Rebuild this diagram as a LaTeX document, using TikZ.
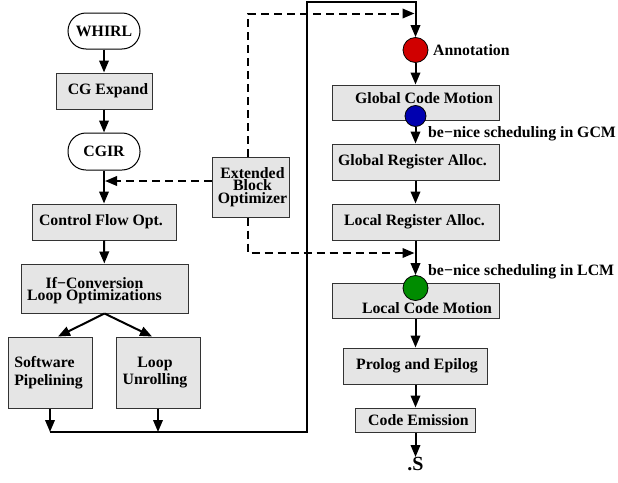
\documentclass[tikz,border=0pt]{standalone}
\usepackage{fontspec}
\setmainfont{Liberation Serif}
\usetikzlibrary{arrows.meta,calc}
\definecolor{boxfill}{RGB}{229,229,229}
\definecolor{redc}{RGB}{208,0,0}
\definecolor{bluec}{RGB}{0,0,176}
\definecolor{greenc}{RGB}{0,140,0}
\begin{document}
\begin{tikzpicture}[x=1pt,y=-1pt,
  font=\fontsize{15.8}{12.5}\selectfont\bfseries,
  box/.style={draw=black!80,line width=1pt,fill=boxfill,inner sep=0pt,rectangle},
  term/.style={draw=black,line width=1pt,fill=white,rounded corners=18pt,minimum width=72pt,minimum height=36pt,inner sep=0pt},
  dot/.style={circle,draw=black,line width=0.8pt,inner sep=0pt},
  arr/.style={line width=2pt,-{Triangle[length=12pt,width=9.5pt]}},
  darr/.style={line width=2pt,dash pattern=on 8pt off 5pt,-{Triangle[length=12pt,width=9.5pt]}},
  note/.style={anchor=west,inner sep=0pt}]
\useasboundingbox (0,0) rectangle (618,482);
\lineskiplimit=-30pt
% left column
\node[term] (whirl) at (104,31) {WHIRL};
\node[box,minimum width=96pt,minimum height=36pt,label={[shift={(4,0)}]center:CG Expand}] (cge) at (104,91) {};
\node[term,minimum height=37pt] (cgir) at (104,151.5) {CGIR};
\node[box,minimum width=144pt,minimum height=36pt,label={[shift={(-3,0)}]center:Control Flow Opt.}] (cfo) at (104,222) {};
\node[box,minimum width=167pt,minimum height=49pt,label={[shift={(-10,2)},align=center]center:{If−Conversion\\Loop Optimizations}}] (ifc) at (104.5,288.5) {};
\node[box,minimum width=84pt,minimum height=71pt,label={[shift={(-1.5,0)},align=left,font=\fontsize{15.8}{17.5}\selectfont\bfseries]center:{Software\\Pipelining}}] (sp) at (50,372.5) {};
\node[box,minimum width=84pt,minimum height=71pt,label={[shift={(-3,0)},align=center,font=\fontsize{15.8}{17.5}\selectfont\bfseries]center:{Loop\\Unrolling}}] (lu) at (158,372.5) {};
\node[box,minimum width=77pt,minimum height=60pt,label={[shift={(2,0)},align=center]center:{Extended\\Block\\Optimizer}}] (ebo) at (250.5,187) {};
% right column
\node[box,minimum width=167pt,minimum height=35pt,label={[shift={(8.5,-4.5)}]center:Global Code Motion}] (gcm) at (415.5,102.5) {};
\node[box,minimum width=167pt,minimum height=36pt,label={[shift={(-3,0)}]center:Global Register Alloc.}] (gra) at (415.5,162) {};
\node[box,minimum width=167pt,minimum height=36pt,label={[shift={(-1,0)}]center:Local Register Alloc.}] (lra) at (415.5,222) {};
\node[box,minimum width=167pt,minimum height=35pt,label={[shift={(11.5,7.5)}]center:Local Code Motion}] (lcm) at (415.5,300.5) {};
\node[box,minimum width=144pt,minimum height=36pt,label={[shift={(1.5,0)}]center:Prolog and Epilog}] (pe) at (415.5,366) {};
\node[box,minimum width=120pt,minimum height=24pt,label={[shift={(3,0)}]center:Code Emission}] (ce) at (415.5,420) {};
\node[anchor=north,inner sep=0.5pt,font=\fontsize{20}{20}\selectfont\bfseries] (s) at (415.5,457) {.S};
% dots
\node[dot,fill=redc,minimum size=25pt] (red) at (415.5,50) {};
\node[dot,fill=bluec,minimum size=21pt] (blue) at (415.5,116) {};
\node[dot,fill=greenc,minimum size=25pt] (green) at (415.5,288) {};
\node[note] (ann) at (433,50) {Annotation};
\node[note] (gcmnote) at (428,134) {be−nice scheduling in GCM};
\node[note] (lcmnote) at (428,272) {be−nice scheduling in LCM};
% coordinates
\coordinate (j1) at (50,432);
\coordinate (j2) at (158,432);
\coordinate (c1) at (307,432);
\coordinate (c2) at (307,2);
\coordinate (c3) at (415.5,2);
\coordinate (d1) at (248,13.5);
\coordinate (d2) at (248,253);
\coordinate (dt) at (414.5,13.5);
\coordinate (db) at (414.5,253);
\coordinate (dj) at (105,181);
% arrows left
\draw[arr] (whirl) -- (cge);
\draw[arr] (cge) -- (cgir);
\draw[arr] (cgir) -- (cfo);
\draw[arr] (cfo) -- (ifc);
\draw[arr] (ifc.south) -- ([xshift=8pt]sp.north);
\draw[arr] (ifc.south) -- ([xshift=-6pt]lu.north);
\draw[arr] (sp.south) -- (j1);
\draw[arr] (lu.south) -- (j2);
\draw[arr,line join=miter] (j1) -- (c1) -- (c2) -- (c3) -- (red.north);
% dashed
\draw[darr] ([yshift=6pt]ebo.west) -- (dj);
\draw[darr] ([xshift=-2.5pt]ebo.north) -- (d1) -- (dt);
\draw[darr] ([xshift=-2.5pt]ebo.south) -- (d2) -- (db);
% arrows right
\draw[arr] (red.south) -- (gcm.north);
\draw[arr] (blue.south) -- (gra.north);
\draw[arr] (gra) -- (lra);
\draw[arr] (lra.south) -- (green.north);
\draw[arr] (lcm) -- (pe);
\draw[arr] (pe) -- (ce);
\draw[arr] (ce) -- (s);
\end{tikzpicture}
\end{document}
